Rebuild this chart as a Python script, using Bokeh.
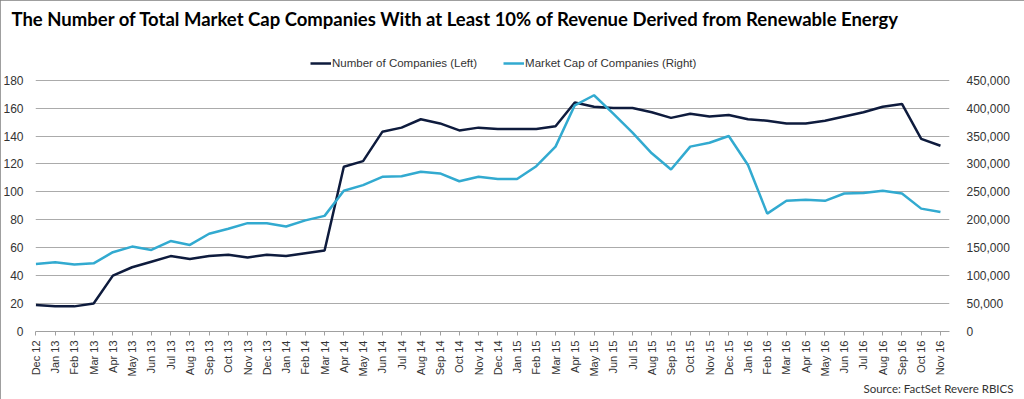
import math
from bokeh.plotting import figure
from bokeh.models import Range1d, LinearAxis, FixedTicker, NumeralTickFormatter, Legend, LegendItem, Title
from bokeh.embed import file_html
from bokeh.resources import INLINE

months = ["Dec 12", "Jan 13", "Feb 13", "Mar 13", "Apr 13", "May 13", "Jun 13", "Jul 13", "Aug 13",
          "Sep 13", "Oct 13", "Nov 13", "Dec 13", "Jan 14", "Feb 14", "Mar 14", "Apr 14", "May 14",
          "Jun 14", "Jul 14", "Aug 14", "Sep 14", "Oct 14", "Nov 14", "Dec 14", "Jan 15", "Feb 15",
          "Mar 15", "Apr 15", "May 15", "Jun 15", "Jul 15", "Aug 15", "Sep 15", "Oct 15", "Nov 15",
          "Dec 15", "Jan 16", "Feb 16", "Mar 16", "Apr 16", "May 16", "Jun 16", "Jul 16", "Aug 16",
          "Sep 16", "Oct 16", "Nov 16"]

companies = [19, 18, 18, 20, 40, 46, 50, 54, 52, 54, 55, 53, 55, 54, 56, 58, 118, 122, 143, 146,
             152, 149, 144, 146, 145, 145, 145, 147, 164, 161, 160, 160, 157, 153, 156, 154, 155,
             152, 151, 149, 149, 151, 154, 157, 161, 163, 138, 133]

market_cap = [121000, 124000, 120000, 122000, 142000, 152000, 146000, 162000, 155000, 175000,
              184000, 194000, 194000, 188000, 199000, 207000, 252000, 262000, 277000, 278000,
              286000, 283000, 269000, 277000, 273000, 273000, 296000, 331000, 405000, 423000,
              390000, 356000, 319000, 290000, 331000, 338000, 350000, 298000, 211000, 234000,
              236000, 234000, 247000, 248000, 252000, 247000, 220000, 214000]

left_ticks = list(range(0, 181, 20))
right_ticks = list(range(0, 450001, 50000))

x = list(range(len(months)))

DARK = "#0e1b3d"
LIGHT = "#32aad0"
FONT = "Liberation Sans"

# headroom above the 180 gridline holds the legend
Y_TOP = 212.7
X_END = len(months) - 1 + 0.47
p = figure(width=1024, height=399, output_backend="svg", toolbar_location=None,
           x_range=Range1d(-0.02, X_END), y_range=Range1d(0, Y_TOP),
           min_border_left=32, min_border_right=75, min_border_top=32, min_border_bottom=68)
p.extra_y_ranges = {"cap": Range1d(0, Y_TOP * 2500)}
p.styles = {"outline": "1px solid #7f7f7f", "outline-offset": "-1px"}

r1 = p.line(x, companies, color=DARK, line_width=2.5)
r2 = p.line(x, market_cap, color=LIGHT, line_width=2.5, y_range_name="cap")

p.outline_line_color = None
p.xgrid.grid_line_color = None
p.ygrid.grid_line_color = "#ababab"
p.ygrid.grid_line_width = 1

# left axis
ya = p.yaxis[0]
ya.ticker = FixedTicker(ticks=left_ticks)
ya.axis_line_color = None
ya.major_tick_line_color = None
ya.minor_tick_line_color = None
ya.major_label_text_font = FONT
ya.major_label_text_font_size = "12px"
ya.major_label_text_color = "#333333"
ya.major_label_standoff = 6

# right axis
ra = LinearAxis(y_range_name="cap", ticker=FixedTicker(ticks=right_ticks),
                formatter=NumeralTickFormatter(format="0,0"))
ra.axis_line_color = None
ra.major_tick_line_color = None
ra.minor_tick_line_color = None
ra.major_label_text_font = FONT
ra.major_label_text_font_size = "12px"
ra.major_label_text_color = "#333333"
ra.major_label_standoff = 11
p.add_layout(ra, "right")

# x axis
xa = p.xaxis[0]
xa.ticker = FixedTicker(ticks=x)
xa.major_label_overrides = {i: m for i, m in enumerate(months)}
xa.major_label_orientation = math.pi / 2
xa.major_label_text_font = FONT
xa.major_label_text_font_size = "11px"
xa.major_label_text_color = "#333333"
xa.axis_line_color = "#a0a0a0"
xa.major_tick_line_color = "#a0a0a0"
xa.major_tick_in = 0
xa.major_tick_out = 4
xa.minor_tick_line_color = None
xa.major_label_standoff = 5

# title
p.title.text = "The Number of Total Market Cap Companies With at Least 10% of Revenue Derived from Renewable Energy"
p.title.text_font = "Lato"
p.title.text_font_style = "bold"
p.title.text_font_size = "18.5px"
p.title.text_color = "#000000"
p.title.align = "left"
p.title.offset = -24

# legend (inside the headroom of the frame)
legend = Legend(items=[LegendItem(label="Number of Companies (Left)", renderers=[r1]),
                       LegendItem(label="Market Cap of Companies (Right)", renderers=[r2])],
                orientation="horizontal", location=(275, 262))
legend.label_text_font = FONT
legend.label_text_font_size = "11.5px"
legend.label_text_color = "#333333"
legend.border_line_color = None
legend.background_fill_alpha = 0
legend.glyph_width = 21
legend.glyph_height = 12
legend.spacing = 26
legend.label_standoff = 1
legend.margin = 0
legend.padding = 2
p.add_layout(legend)

# source note
src = Title(text="Source: FactSet Revere RBICS", align="right", text_font="Lato",
            text_font_size="11.5px", text_font_style="normal", text_color="#333333",
            offset=-64, standoff=0)
p.add_layout(src, "below")

open("out.html", "w").write(file_html(p, INLINE))
